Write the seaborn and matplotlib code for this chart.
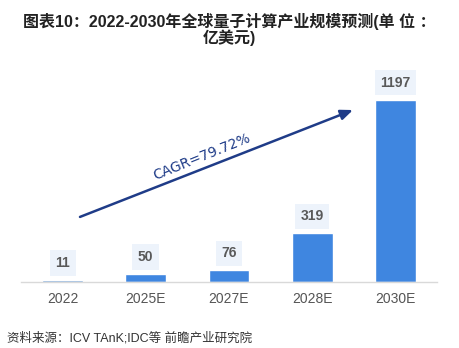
import matplotlib
matplotlib.use("Agg")
import matplotlib.pyplot as plt
import seaborn as sns
import pandas as pd

categories = ["2022", "2025E", "2027E", "2028E", "2030E"]
values = [11, 50, 76, 319, 1197]
title_text = "图表10：2022-2030年全球量子计算产业规模预测(单 位 ：\n亿美元)"
cagr_text = "CAGR=79.72%"
source_text = "资料来源：ICV TAnK;IDC等 前瞻产业研究院"

sns.set_theme(style="white")
plt.rcParams['font.family'] = ['Liberation Sans', 'Noto Sans CJK SC', 'DejaVu Sans']

df = pd.DataFrame({"year": categories, "value": values})

fig = plt.figure(figsize=(4.59, 3.48), dpi=100)
ax = fig.add_axes([21/459, 66/348, 416/459, 222/348])

bar_color = "#3f86e0"
palette = [bar_color if v > 20 else "#6f9fd6" for v in values]
sns.barplot(data=df, x="year", y="value", hue="year", palette=palette,
            legend=False, width=0.49, ax=ax, saturation=1)

ax.set_xlim(-0.5, 4.5)
ax.set_ylim(0, 1460)
ax.set_xlabel("")
ax.set_ylabel("")
ax.set_yticks([])
for s in ["top", "right", "left"]:
    ax.spines[s].set_visible(False)
ax.spines["bottom"].set_color("#d9d9d9")
ax.spines["bottom"].set_linewidth(1.0)
ax.tick_params(axis="x", length=0, pad=7, labelsize=10, labelcolor="#555555")

for i, v in enumerate(values):
    ax.annotate(str(v), xy=(i, v), xytext=(0, 12.5), textcoords="offset points",
                ha="center", va="center", fontsize=10, fontweight="bold",
                color="#595959",
                bbox=dict(boxstyle="square,pad=0.4", fc="#edf3fb", ec="none"))

ax.annotate("", xy=(3.49, 1131), xytext=(0.209, 428),
            arrowprops=dict(arrowstyle="-|>,head_length=0.6,head_width=0.25",
                            color="#1f3c88", lw=1.8, shrinkA=0, shrinkB=0))
ax.text(1.675, 822, cagr_text, rotation=22, rotation_mode="anchor",
        ha="center", va="center", fontsize=10, color="#1f3c88",
        family=["DejaVu Sans"])

fig.text(0.5, 1 - 21/348, title_text.split("\n")[0], ha="center", va="center",
         fontsize=11.5, fontweight="bold", color="#222222")
fig.text(0.5, 1 - 38/348, title_text.split("\n")[1], ha="center", va="center",
         fontsize=11.5, fontweight="bold", color="#222222")
fig.text(7/459, 1 - 338/348, source_text, ha="left", va="center",
         fontsize=9, color="#333333")

fig.savefig("out.png", dpi=100)
